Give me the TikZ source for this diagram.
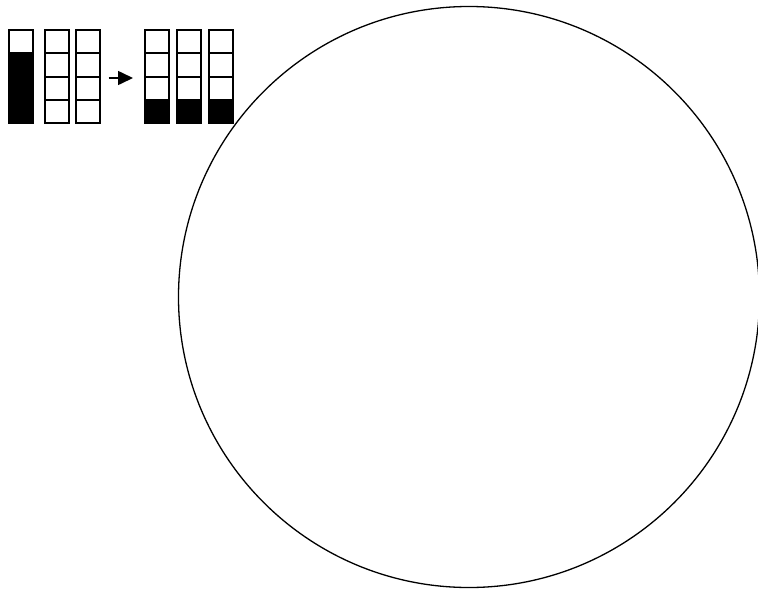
\documentclass[tikz,border=0pt]{standalone}
\usetikzlibrary{arrows.meta,calc}
\begin{document}
\begin{tikzpicture}[x=1pt, y=-1pt,
  cell/.style={draw, line width=2pt, minimum width=24pt, minimum height=23.25pt, inner sep=0pt, anchor=north west},
  full/.style={cell, fill=black}]
  \useasboundingbox (0,0) rectangle (758,592);
  % before: one column nearly full, two empty
  \foreach \r in {0,...,3} {
    \ifnum\r=0
      \node[cell] (a\r) at (8,{29+23.25*\r}) {};
    \else
      \node[full] (a\r) at (8,{29+23.25*\r}) {};
    \fi
    \node[cell] (b\r) at (44,{29+23.25*\r}) {};
    \node[cell] (c\r) at (74.5,{29+23.25*\r}) {};
  }
  % after: every column gets one share
  \foreach \col/\x in {d/144, e/176, f/208} {
    \foreach \r in {0,...,2}
      \node[cell] (\col\r) at (\x,{29+23.25*\r}) {};
    \node[full] (\col3) at (\x,{29+23.25*3}) {};
  }
  \draw[-{Triangle[length=15pt,width=14pt]}, line width=1.6pt, shorten <=8pt, shorten >=11pt]
    ($(c2.north east)+(0,2.5)$) -- ($(d2.north west)+(0,2.5)$);
  \node[circle, draw, line width=1.3pt, minimum size=581pt, inner sep=0pt] (ring) at (469,297) {};
\end{tikzpicture}
\end{document}
